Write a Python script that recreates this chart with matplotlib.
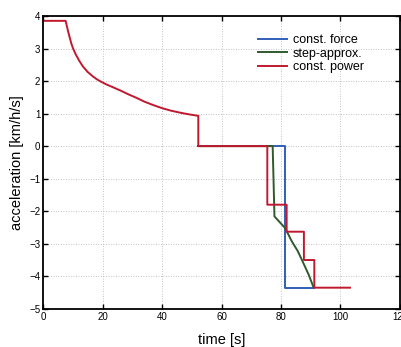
import matplotlib
matplotlib.use("Agg")
import matplotlib.pyplot as plt

# const. power (red)
power_t = [0, 7.6, 8.5, 9.5, 10.1, 11.0, 12.2, 13.4, 15.0, 16.8, 18.0, 19.3, 21.2, 23.5,
           26.0, 28.5, 31.5, 34.0, 36.8, 39.9, 43.0, 46.5, 49.5, 52.2,
           52.2, 75.4, 75.4, 81.9, 81.9, 87.7, 87.7, 91.2, 91.2, 103.2]
power_a = [3.85, 3.85, 3.5, 3.16, 3.0, 2.82, 2.62, 2.45, 2.28, 2.14, 2.06, 1.99, 1.9, 1.81,
           1.71, 1.6, 1.48, 1.37, 1.27, 1.17, 1.09, 1.02, 0.97, 0.93,
           0.0, 0.0, -1.8, -1.8, -2.63, -2.63, -3.5, -3.5, -4.35, -4.35]

# step-approx. (green)
step_t = [52.2, 77.2, 77.8, 79.5, 81.3, 82.5, 83.6, 85.6, 87.5, 89.3, 90.9]
step_a = [0.0, 0.0, -2.16, -2.33, -2.51, -2.72, -2.92, -3.22, -3.59, -3.95, -4.33]

# const. force (blue)
force_t = [52.2, 81.3, 81.3, 91.0]
force_a = [0.0, 0.0, -4.35, -4.35]

BLUE = "#2f5fb8"
GREEN = "#2f5a2c"
RED = "#c0192f"

plt.rcParams["font.family"] = ["Liberation Sans", "DejaVu Sans"]

fig = plt.figure(figsize=(4.02, 3.47), dpi=100)
ax = fig.add_axes([0.107, 0.11, 0.888, 0.844])

ax.plot(force_t, force_a, color=BLUE, lw=1.4, label="const. force")
ax.plot(step_t, step_a, color=GREEN, lw=1.4, label="step-approx.")
ax.plot(power_t, power_a, color=RED, lw=1.4, label="const. power")

ax.set_xlim(0, 120)
ax.set_ylim(-5, 4)
ax.set_xticks(range(0, 121, 20))
ax.set_yticks(range(-5, 5))
ax.tick_params(direction="in", top=True, right=True, length=3.5, width=1,
               labelsize=7, pad=2)
ax.grid(True, linestyle=(0, (1, 2)), color="#b0b0b8", lw=0.6)
for s in ax.spines.values():
    s.set_linewidth(1.3)

ax.set_xlabel("time [s]", fontsize=10.5, labelpad=8)
ax.set_ylabel("acceleration [km/h/s]", fontsize=10.5, labelpad=4)

ax.legend(loc="upper left", bbox_to_anchor=(0.602, 0.938), frameon=False,
          fontsize=9, handlelength=2.3, handletextpad=0.5, labelspacing=0.12,
          borderpad=0, borderaxespad=0)

fig.savefig("out.png", dpi=100)
